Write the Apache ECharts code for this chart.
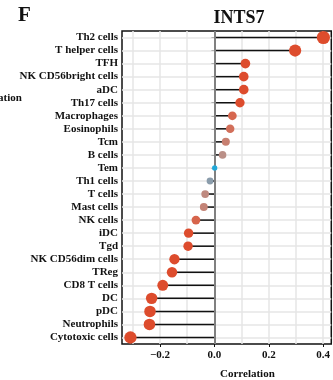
<!DOCTYPE html>
<html><head><meta charset="utf-8">
<script src="https://cdn.jsdelivr.net/npm/echarts@6/dist/echarts.min.js"></script>
<style>html,body{margin:0;padding:0;background:#fff}#c{width:333px;height:380px}</style>
</head><body><div id="c"></div>
<script>
const categories = ["Th2 cells","T helper cells","TFH","NK CD56bright cells","aDC","Th17 cells","Macrophages","Eosinophils","Tcm","B cells","Tem","Th1 cells","T cells","Mast cells","NK cells","iDC","Tgd","NK CD56dim cells","TReg","CD8 T cells","DC","pDC","Neutrophils","Cytotoxic cells"];
const correlation = [0.401,0.297,0.114,0.108,0.108,0.094,0.066,0.058,0.042,0.030,0.001,-0.016,-0.034,-0.039,-0.068,-0.095,-0.097,-0.147,-0.156,-0.190,-0.231,-0.237,-0.239,-0.309];
const xTickLabels = [-0.2,0.0,0.2,0.4];
const xGridValues = [-0.3,-0.2,-0.1,0.0,0.1,0.2,0.3,0.4];
</script>
<script>
const F = '"Liberation Serif","DejaVu Serif",serif';
const stops = [[0,[26,170,220]],[0.016,[138,156,171]],[0.03,[186,143,135]],[0.045,[203,124,108]],[0.065,[214,104,80]],[0.09,[221,76,45]],[1,[222,75,43]]];
function colorFor(v){
  const a=Math.abs(v);
  for(let i=1;i<stops.length;i++){
    if(a<=stops[i][0]){
      const t=(a-stops[i-1][0])/(stops[i][0]-stops[i-1][0]);
      const c=stops[i-1][1].map((x,k)=>Math.round(x+(stops[i][1][k]-x)*t));
      return 'rgb('+c.join(',')+')';
    }
  }
  return 'rgb(222,75,43)';
}
function sizeFor(v){ return 4.5 + 12.5*Math.pow(Math.abs(v),0.4); }
const chart = echarts.init(document.getElementById('c'));
chart.setOption({
  animation:false,
  backgroundColor:'#fff',
  grid:{left:122,top:31,width:214,bottom:36,show:true,borderColor:'#111',borderWidth:1.5,containLabel:false},
  title:{text:'INTS7',left:234,top:4,textAlign:'center',textStyle:{fontFamily:F,fontWeight:'bold',fontSize:18,color:'#111'}},
  graphic:[
    {type:'text',left:18,top:5,style:{text:'F',font:'bold 21px '+F,fill:'#111'}},
    {type:'text',left:-2,top:93,style:{text:'ation',font:'bold 11px '+F,fill:'#111'}},
    {type:'text',left:220,top:369,style:{text:'Correlation',font:'bold 11px '+F,fill:'#111'}}
  ],
  xAxis:{type:'value',min:-0.34,max:0.43,
    axisLine:{show:false},
    splitLine:{show:false},
    axisTick:{show:true,length:3,lineStyle:{color:'#111',width:1},customValues:xTickLabels},
    axisLabel:{customValues:xTickLabels,margin:6,color:'#111',fontFamily:F,fontWeight:'bold',fontSize:11,
      formatter:v=>(v<0?'\u2212':'')+Math.abs(v).toFixed(1)}
  },
  yAxis:{type:'category',data:categories,inverse:true,
    axisLine:{show:false},
    axisTick:{show:true,length:3,alignWithLabel:true,interval:0,lineStyle:{color:'#111',width:1}},
    splitLine:{show:false},
    axisLabel:{interval:0,color:'#111',fontFamily:F,fontWeight:'bold',fontSize:11,margin:4}
  },
  series:[
    {type:'line',data:[],silent:true,z:1,
      markLine:{z:1,silent:true,symbol:'none',label:{show:false},animation:false,
        lineStyle:{color:'#E6E6E6',width:1.5,type:'solid'},
        data:xGridValues.map(v=>({xAxis:v})).concat(categories.map(c=>({yAxis:c})))}
    },
    {type:'custom',silent:true,z:3,
      data:correlation.map((v,i)=>[v,i]),
      encode:{x:0,y:1},
      renderItem:(params,api)=>{
        const p0=api.coord([0,api.value(1)]);
        const p1=api.coord([api.value(0),api.value(1)]);
        return {type:'line',shape:{x1:p0[0],y1:p0[1],x2:p1[0],y2:p1[1]},style:{stroke:'#111',lineWidth:1.5}};
      }
    },
    {type:'line',data:[],silent:true,z:4,
      markLine:{z:4,silent:true,symbol:'none',label:{show:false},animation:false,
        lineStyle:{color:'#808080',width:2,type:'solid'},data:[{xAxis:0}]}
    },
    {type:'scatter',data:correlation,z:10,
      symbolSize:v=>sizeFor(v),
      itemStyle:{opacity:1,color:p=>colorFor(p.value)}
    }
  ]
});
</script></body></html>
